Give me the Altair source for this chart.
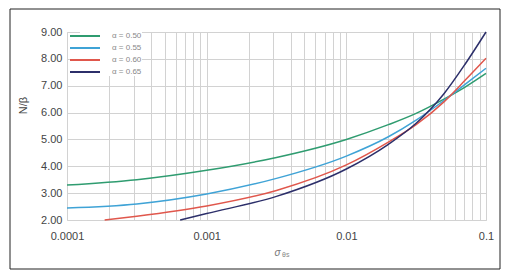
import altair as alt
import pandas as pd

series_names = ["α = 0.50", "α = 0.55", "α = 0.60", "α = 0.65"]
series_colors = ["#2f9c70", "#3fa3d6", "#e0574c", "#2c2f6a"]

x_050 = [0.0001, 0.000316, 0.001, 0.00316, 0.01, 0.02, 0.0316, 0.05, 0.0708, 0.1]
y_050 = [3.30, 3.50, 3.85, 4.33, 5.00, 5.55, 5.97, 6.50, 6.95, 7.46]

x_055 = [0.0001, 0.000316, 0.001, 0.00316, 0.01, 0.02, 0.0316, 0.05, 0.0708, 0.1]
y_055 = [2.45, 2.60, 2.97, 3.55, 4.38, 5.10, 5.72, 6.45, 7.05, 7.65]

x_060 = [0.000186, 0.000316, 0.001, 0.00316, 0.01, 0.02, 0.0316, 0.05, 0.0708, 0.1]
y_060 = [2.00, 2.14, 2.52, 3.10, 4.05, 4.90, 5.55, 6.40, 7.20, 8.02]

x_065 = [0.000646, 0.001, 0.00316, 0.01, 0.02, 0.0316, 0.05, 0.0708, 0.1]
y_065 = [2.00, 2.24, 2.88, 3.90, 4.82, 5.60, 6.70, 7.80, 9.00]

y_ticks = [2, 3, 4, 5, 6, 7, 8, 9]
x_ticks = [round(a * 10 ** e, 6) for e in range(-4, -1) for a in range(1, 10)] + [0.1]

rows = []
for name, xs, ys in zip(series_names, [x_050, x_055, x_060, x_065], [y_050, y_055, y_060, y_065]):
    for xv, yv in zip(xs, ys):
        rows.append({"series": name, "x": xv, "y": yv})
df = pd.DataFrame(rows)

font = "Liberation Sans"

lines = alt.Chart(df).mark_line(interpolate="monotone", strokeWidth=1.5).encode(
    x=alt.X("x:Q",
            scale=alt.Scale(type="log", domain=[0.0001, 0.1], nice=False),
            axis=alt.Axis(values=x_ticks, format="~g",
                          labelExpr="abs(log(datum.value)/LN10 - round(log(datum.value)/LN10)) < 0.001 ? datum.label : ''",
                          labelOverlap=False, labelFlush=False,
                          labelFont=font, labelFontSize=11, labelColor="#444", labelPadding=10,
                          ticks=False, domain=False,
                          grid=True, gridColor="#d2d2d2", gridWidth=1,
                          title="σ", titleFont=font, titleFontSize=10, titleFontWeight="normal",
                          titleFontStyle="italic", titleColor="#777", titleX=210, titleY=32,
                          titleAlign="center", titleBaseline="middle")),
    y=alt.Y("y:Q",
            scale=alt.Scale(domain=[2, 9], nice=False, zero=False),
            axis=alt.Axis(values=y_ticks, format=".2f",
                          labelFont=font, labelFontSize=11, labelColor="#444", labelPadding=5,
                          ticks=False, domain=False,
                          grid=True, gridColor="#d2d2d2", gridWidth=1,
                          title="N/β", titleFont=font, titleFontSize=11, titleFontWeight="normal",
                          titleColor="#444", titleX=-44, titleY=73,
                          titleAlign="center", titleBaseline="middle")),
    color=alt.Color("series:N",
                    scale=alt.Scale(domain=series_names, range=series_colors),
                    legend=alt.Legend(title=None, orient="none", legendX=13, legendY=-1,
                                      symbolType="M-3.75,0L3.75,0", symbolStrokeWidth=2, symbolSize=64,
                                      labelFont=font, labelFontSize=8, labelColor="#888",
                                      fillColor="white", padding=0, rowPadding=3,
                                      labelOffset=22)),
)

frame_df = pd.DataFrame({"k": [0]})
frame = alt.Chart(frame_df).mark_rect(fillOpacity=0, stroke="#222", strokeWidth=1, clip=False).encode(
    x=alt.value(-57), x2=alt.value(433), y=alt.value(-23), y2=alt.value(237)
)

sub = alt.Chart(frame_df).mark_text(text="θs", font=font, fontSize=7, color="#888", align="left",
                                    baseline="middle", clip=False).encode(
    x=alt.value(215), y=alt.value(223)
)

chart = alt.layer(lines, frame, sub).properties(
    width=419, height=188,
    padding={"left": 67, "top": 32, "right": 26, "bottom": 57},
    autosize=alt.AutoSizeParams(type="none"),
).configure_view(stroke="#666", strokeWidth=1.2).configure(background="white")

chart.save("out.html", embed_options={"renderer": "svg", "actions": False})
